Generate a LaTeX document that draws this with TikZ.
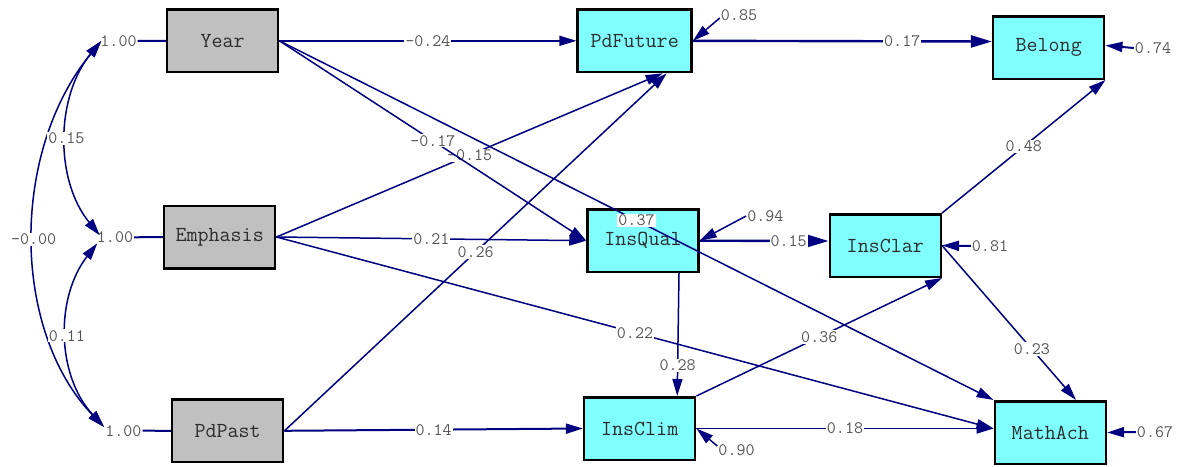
\documentclass[tikz,border=0pt]{standalone}
\usepackage{fontspec}
\usetikzlibrary{arrows.meta,calc}

\definecolor{pathblue}{RGB}{0,0,128}
\definecolor{exofill}{RGB}{192,192,192}
\definecolor{endofill}{RGB}{128,255,255}
\definecolor{boxtext}{RGB}{45,45,45}
\definecolor{coeftext}{RGB}{85,85,85}

\begin{document}
\begin{tikzpicture}[x=1pt,y=-1pt,
  var/.style={draw=black, line width=2.5pt, minimum width=111pt, minimum height=62.5pt,
    inner sep=0pt, text=boxtext, font=\ttfamily\fontsize{21.4}{23}\selectfont},
  exo/.style={var, fill=exofill},
  endo/.style={var, fill=endofill},
  coef/.style={fill=white, inner sep=1pt, text=coeftext,
    font=\ttfamily\fontsize{17.5}{18}\selectfont},
  effect/.style={draw=pathblue, line width=1.5pt,
    -{Triangle[length=17pt,width=10pt]}},
  medium/.style={line width=2pt},
  heavy/.style={line width=2.4pt, -{Triangle[length=21pt,width=12pt]}},
  unitline/.style={draw=pathblue, line width=2pt},
  cov/.style={draw=pathblue, line width=1.5pt,
    {Triangle[length=17pt,width=10pt]}-{Triangle[length=17pt,width=10pt]}}]

\useasboundingbox (0,0) rectangle (1178,466);

% observed variables
\node[exo] (Year)     at (222.7,40.8)  {Year};
\node[exo] (Emphasis) at (219.7,237)   {Emphasis};
\node[exo] (PdPast)   at (227.7,430.8) {PdPast};
\node[endo, minimum width=114pt] (PdFuture) at (634.7,40.8) {PdFuture};
\node[endo] (Belong)  at (1048.7,47.5) {Belong};
\node[endo] (InsQual) at (643,240.7)   {InsQual};
\node[endo] (InsClar) at (885.3,245.5) {InsClar};
\node[endo] (InsClim) at (639.7,428.5) {InsClim};
\node[endo] (MathAch) at (1050.3,432.5) {MathAch};

% variances of the exogenous variables
\node[coef] (v1) at (118.5,41)    {1.00};
\node[coef] (v2) at (115,237.3)   {1.00};
\node[coef] (v3) at (123.3,430.7) {1.00};
\draw[unitline] (v1.east) -- (Year.west);
\draw[unitline] (v2.east) -- (Emphasis.west);
\draw[unitline] (v3.east) -- (PdPast.west);

% covariances
\draw[cov] ([xshift=2pt]v1.west) .. controls +(-91,111) and +(-93,-97) ..
  node[coef]{-0.00} ([yshift=3.7pt]v3.west);
\draw[cov] ([xshift=2pt]v1.west) .. controls +(-46,56) and +(-45,-55) ..
  node[coef]{0.15} ([xshift=4pt,yshift=2pt]v2.west);
\draw[cov] ([xshift=1.5pt,yshift=-6pt]v2.west) .. controls +(-42,54) and +(-48,-52) ..
  node[coef]{0.11} ([yshift=3.7pt]v3.west);

% structural paths
\draw[effect] (Emphasis.east) -- node[coef]{-0.15} ([xshift=28pt]PdFuture.south);
\draw[effect] (Year.east) -- node[coef]{-0.24} (PdFuture.west);
\draw[effect] (Year.east) -- node[coef]{-0.17} (InsQual.west);
\draw[effect] (Year.east) -- node[coef]{0.37} (MathAch.north west);
\draw[effect] (Emphasis.east) -- node[coef]{0.21} (InsQual.west);
\draw[effect] (Emphasis.east) -- node[coef]{0.22} ([yshift=4pt]MathAch.west);
\draw[effect] (PdPast.east) -- node[coef]{0.26} ([xshift=32pt]PdFuture.south);
\draw[effect, medium] (PdPast.east) -- node[coef]{0.14} (InsClim.west);
\draw[effect, heavy] (PdFuture.east) -- node[coef,pos=0.7]{0.17} ([yshift=6pt]Belong.west);
\draw[effect, heavy] (InsQual.east) -- node[coef,pos=0.69]{0.15} ([yshift=4.5pt]InsClar.west);
\draw[effect] ([xshift=36pt]InsQual.south) -- node[coef,pos=0.75]{0.28} ([xshift=37.5pt]InsClim.north);
\draw[effect] (InsClim.north east) -- node[coef]{0.36} (InsClar.south east);
\draw[effect] (InsClim.east) -- node[coef]{0.18} ([yshift=4pt]MathAch.west);
\draw[effect] (InsClar.north east) -- node[coef]{0.48} (Belong.south east);
\draw[effect] (InsClar.east) -- node[coef,pos=0.67]{0.23} ([xshift=25.7pt]MathAch.north);

% error variances
\node[coef] (e85) at (739,15)     {0.85};
\node[coef] (e74) at (1153,48)    {0.74};
\node[coef] (e94) at (765.3,216)  {0.94};
\node[coef] (e81) at (990,246)    {0.81};
\node[coef] (e90) at (736.5,450)  {0.90};
\node[coef] (e67) at (1155,432)   {0.67};
\draw[effect] ([yshift=-3pt]e85.west) -- (PdFuture.east);
\draw[effect, medium] (e74.west) -- ([yshift=2pt]Belong.east);
\draw[effect] (e94.west) -- (InsQual.east);
\draw[effect, medium] (e81.west) -- (InsClar.east);
\draw[effect] ([yshift=4pt]e90.west) -- (InsClim.east);
\draw[effect, medium] (e67.west) -- (MathAch.east);

\end{tikzpicture}
\end{document}
